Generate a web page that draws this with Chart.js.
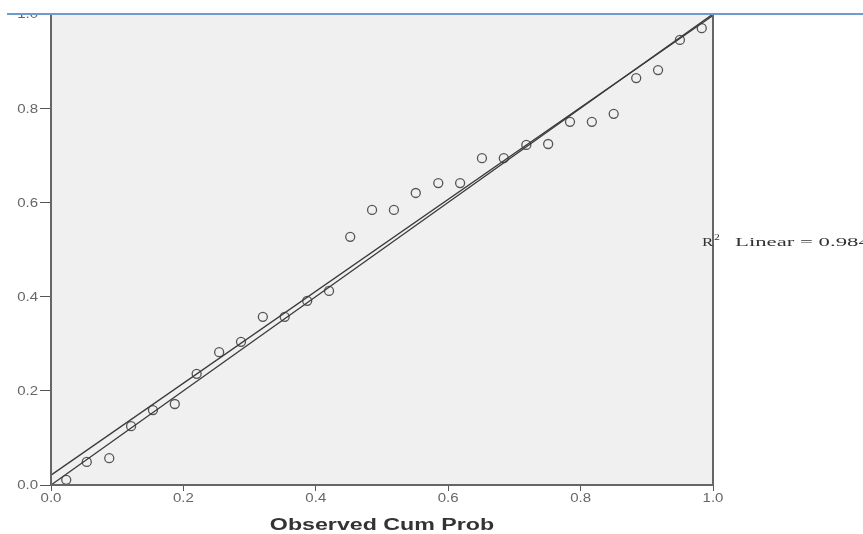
<!DOCTYPE html>
<html>
<head>
<meta charset="utf-8">
<script src="https://cdn.jsdelivr.net/npm/chart.js@4.4.0/dist/chart.umd.min.js"></script>
<style>
    html, body { margin: 0; padding: 0; background: #fff; }
    #wrap { position: relative; width: 863px; height: 534px; overflow: hidden; }
    #topMask { position: absolute; left: 0; top: 0; width: 863px; height: 13px; background: #fff; }
    #topLine { position: absolute; left: 7px; top: 13px; width: 856px; height: 2px; background: #6f9bd0; }
</style>
</head>
<body>
<div id="wrap">
    <canvas id="ppChart" width="863" height="534"></canvas>
    <div id="topMask"></div>
    <div id="topLine"></div>
</div>
<script>
// Observed vs expected cumulative probability (P-P plot)
const observedCum = [0.023, 0.054, 0.088, 0.121, 0.154, 0.187, 0.220, 0.254, 0.287, 0.320,
                     0.353, 0.387, 0.420, 0.452, 0.485, 0.518, 0.551, 0.585, 0.618, 0.651,
                     0.684, 0.718, 0.751, 0.784, 0.817, 0.850, 0.884, 0.917, 0.950, 0.983];
const expectedCum = [0.011, 0.049, 0.057, 0.125, 0.159, 0.172, 0.236, 0.282, 0.304, 0.357,
                     0.357, 0.391, 0.412, 0.527, 0.584, 0.584, 0.620, 0.641, 0.641, 0.694,
                     0.694, 0.722, 0.724, 0.771, 0.771, 0.788, 0.864, 0.881, 0.945, 0.970];

// Reference diagonal and fitted line end points
const lineX = [0, 1];
const refLineY = [0, 1];
const fitLineY = [0.021, 0.997];

const tickValues = [0, 0.2, 0.4, 0.6, 0.8, 1.0];
const xTitle = 'Observed Cum Prob';
const r2Label = 'Linear = 0.984';

const toPoints = (xs, ys) => xs.map((x, i) => ({ x: x, y: ys[i] }));

// draw text stretched wide, like the stretched original export
function wideText(ctx, text, x, y, stretch, align) {
    const w = ctx.measureText(text).width * stretch;
    let left = x;
    if (align === 'center') left = x - w / 2;
    if (align === 'right') left = x - w;
    ctx.save();
    ctx.translate(left, y);
    ctx.scale(stretch, 1);
    ctx.textAlign = 'left';
    ctx.fillText(text, 0, 0);
    ctx.restore();
}

// Gray plot background, frame, tick labels, title and R2 note
const plotFrame = {
    id: 'plotFrame',
    beforeDatasetsDraw(chart) {
        const { ctx, chartArea: a } = chart;
        ctx.save();
        ctx.fillStyle = '#f0f0f0';
        ctx.fillRect(a.left, a.top, a.right - a.left, a.bottom - a.top);
        ctx.restore();
    },
    afterDraw(chart) {
        const { ctx, chartArea: a } = chart;
        const xs = chart.scales.x, ys = chart.scales.y;
        ctx.save();
        ctx.strokeStyle = '#666';
        ctx.lineWidth = 2;
        ctx.strokeRect(a.left, a.top, a.right - a.left, a.bottom - a.top);

        // tick labels
        ctx.fillStyle = '#666';
        ctx.textBaseline = 'middle';
        ctx.font = '12px Arial, "Liberation Sans", sans-serif';
        tickValues.forEach(v => {
            wideText(ctx, v.toFixed(1), a.left - 13, ys.getPixelForValue(v) + 1, 1.25, 'right');
            wideText(ctx, v.toFixed(1), xs.getPixelForValue(v), a.bottom + 14, 1.25, 'center');
        });

        // axis title
        ctx.fillStyle = '#333';
        ctx.textBaseline = 'alphabetic';
        ctx.font = 'bold 16px Arial, "Liberation Sans", sans-serif';
        wideText(ctx, xTitle, (a.left + a.right) / 2, a.bottom + 45, 1.45, 'center');

        // R-squared note, overlapping the right frame
        const y = ys.getPixelForValue(0.514);
        ctx.textBaseline = 'middle';
        ctx.font = '13px "Liberation Serif", serif';
        const rx = a.right - 11;
        wideText(ctx, 'R', rx, y, 1.3, 'left');
        ctx.font = '9px "Liberation Serif", serif';
        wideText(ctx, '2', rx + 12, y - 5, 1.3, 'left');
        ctx.font = '13px "Liberation Serif", serif';
        wideText(ctx, r2Label, rx + 33, y, 1.75, 'left');
        ctx.restore();
    }
};

new Chart(document.getElementById('ppChart'), {
    type: 'scatter',
    data: {
        datasets: [
            {
                type: 'line',
                data: toPoints(lineX, refLineY),
                borderColor: '#3a3a3a',
                borderWidth: 1.3,
                pointRadius: 0,
                fill: false
            },
            {
                type: 'line',
                data: toPoints(lineX, fitLineY),
                borderColor: '#3a3a3a',
                borderWidth: 1.3,
                pointRadius: 0,
                fill: false
            },
            {
                data: toPoints(observedCum, expectedCum),
                pointStyle: 'circle',
                pointRadius: 4.5,
                borderColor: '#555',
                borderWidth: 1.3,
                backgroundColor: 'rgba(0,0,0,0)'
            }
        ]
    },
    options: {
        responsive: false,
        animation: false,
        layout: { padding: { top: 14, right: 150, bottom: 0, left: 0 } },
        plugins: {
            legend: { display: false },
            tooltip: { enabled: false }
        },
        scales: {
            x: {
                type: 'linear',
                min: 0,
                max: 1,
                afterBuildTicks: (scale) => { scale.ticks = tickValues.map(v => ({ value: v })); },
                afterFit: (scale) => { scale.height = 49; },
                border: { display: false },
                grid: { drawOnChartArea: false, tickLength: 6, color: '#555', lineWidth: 1 },
                ticks: { display: false }
            },
            y: {
                type: 'linear',
                min: 0,
                max: 1,
                afterBuildTicks: (scale) => { scale.ticks = tickValues.map(v => ({ value: v })); },
                afterFit: (scale) => { scale.width = 51; },
                border: { display: false },
                grid: { drawOnChartArea: false, tickLength: 11, color: '#555', lineWidth: 1 },
                ticks: { display: false }
            }
        }
    },
    plugins: [plotFrame]
});
</script>
</body>
</html>
